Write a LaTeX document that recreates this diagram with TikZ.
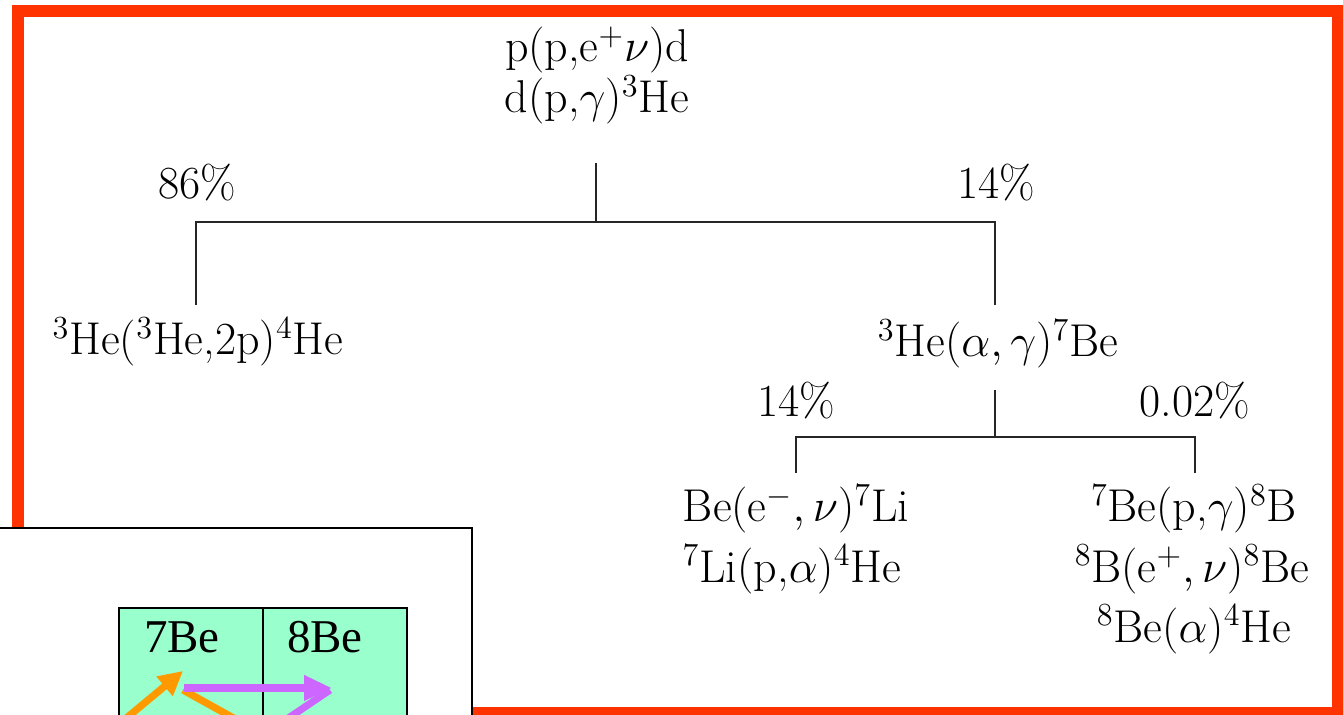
\RequirePackage{fix-cm}
\documentclass[tikz,border=0pt]{standalone}
\usepackage{amsmath}
\usepackage{fontspec}
\usepackage{tikz}
\usetikzlibrary{arrows.meta}
\newfontfamily\cellfont{Liberation Serif}
\definecolor{framered}{HTML}{FF3300}
\definecolor{cellgreen}{HTML}{99FFCC}
\definecolor{arroworange}{HTML}{FF9900}
\definecolor{arrowpurple}{HTML}{CC66FF}

\begin{document}
\begin{tikzpicture}[x=0.5pt,y=-0.5pt,
    reaction/.style={anchor=base,inner sep=0pt,font=\fontsize{23}{27}\selectfont},
    branch/.style={line width=0.7pt,black!85},
    cell/.style={anchor=base,inner sep=0pt,font=\cellfont\fontsize{23.5}{27}\selectfont},
    orangearrow/.style={line width=3.6pt,arroworange},
    purplearrow/.style={line width=3.6pt,arrowpurple}]
    \useasboundingbox (0,0) rectangle (1343,715);
    \clip (0,0) rectangle (1343,715);
    \draw [line width=6pt,framered] (18,11) rectangle (1338,713);

    % pp chain
    \node [reaction] (pp1) at (597,62) {p(p,e$^+\nu$)d};
    \node [reaction] (pp2) at (597,113) {d(p,$\gamma$)$^3$He};
    \node [reaction] (pct86) at (197,199) {86\%};
    \node [reaction] (pct14a) at (996,199) {14\%};
    \node [reaction] (hh) at (198,355) {$^3$He($^3$He,2p)$^4$He};
    \node [reaction] (be7) at (998,357) {$^3$He($\alpha,\gamma$)$^7$Be};
    \node [reaction] (pct14b) at (796,417) {14\%};
    \node [reaction] (pct002) at (1195,417) {0.02\%};
    \node [reaction] (li1) at (796,522) {Be(e$^-,\nu$)$^7$Li};
    \node [reaction] (li2) at (792,582) {$^7$Li(p,$\alpha$)$^4$He};
    \node [reaction] (b1) at (1194,522) {$^7$Be(p,$\gamma$)$^8$B};
    \node [reaction] (b2) at (1192,582) {$^8$B(e$^+,\nu$)$^8$Be};
    \node [reaction] (b3) at (1194,642) {$^8$Be($\alpha$)$^4$He};

    \coordinate (ppStem) at (596,163);
    \coordinate (ppFork) at (596,222);
    \coordinate (hhTop) at (196,305);
    \coordinate (beTop) at (995,305);
    \draw [branch] (ppStem) -- (ppFork);
    \draw [branch] (hhTop) -- (hhTop |- ppFork) -- (beTop |- ppFork) -- (beTop);

    \coordinate (beStem) at (995,390);
    \coordinate (beFork) at (995,437);
    \coordinate (liTop) at (796,473);
    \coordinate (bTop) at (1195,473);
    \draw [branch] (beStem) -- (beFork);
    \draw [branch] (liTop) -- (liTop |- beFork) -- (bTop |- beFork) -- (bTop);

    % inset
    \filldraw [fill=white,draw=black,line width=1.2pt] (-10,528) rectangle (472,730);
    \filldraw [fill=cellgreen,draw=black,line width=1.1pt] (119,608) rectangle (407,730);
    \draw [line width=1.1pt] (263,608) -- (263,730);
    \node [cell] (be7cell) at (182,652) {7Be};
    \node [cell] (be8cell) at (325,652) {8Be};

    \coordinate (o1) at (100,740);
    \coordinate (o2) at (183,671);
    \coordinate (o3) at (183,690);
    \coordinate (o4) at (273,740);
    \coordinate (p1) at (184,688);
    \coordinate (p2) at (332,688);
    \coordinate (p3) at (330,690);
    \coordinate (p4) at (256,740);
    \draw [orangearrow,-{Triangle[length=12pt,width=12pt]}] (o1) -- (o2);
    \draw [orangearrow] (o3) -- (o4);
    \draw [purplearrow,-{Triangle[length=14pt,width=12pt]}] (p1) -- (p2);
    \draw [purplearrow] (p3) -- (p4);
\end{tikzpicture}
\end{document}
